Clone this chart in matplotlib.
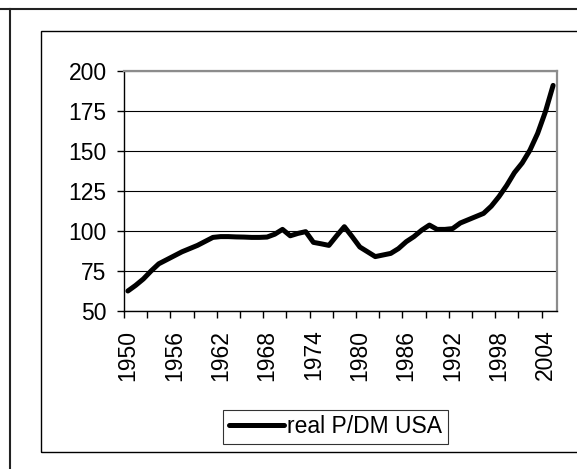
import numpy as np
import matplotlib
matplotlib.use('Agg')
import matplotlib.pyplot as plt
from matplotlib.lines import Line2D
from matplotlib.patches import Rectangle

plt.rcParams['font.family'] = ['Liberation Sans', 'DejaVu Sans']

# jahre und werte
years = list(range(1950, 2006))
values = [62.5, 66, 70, 75, 79.5, 82, 84.5, 87, 89, 91,
          93.5, 96, 96.5, 96.5, 96.3, 96.2, 96, 96, 96.2, 98,
          101, 97, 98.5, 99.6, 92.9, 92, 91, 97, 102.7, 96.5,
          90, 87, 84, 85, 86, 89, 93.3, 96.5, 100.5, 103.7,
          101, 101, 101.5, 105, 107, 109, 111, 115.5, 121.5, 128.5,
          136.5, 142.5, 150.5, 161, 174.5, 191]
label_years = list(range(1950, 2005, 6))
yticks = [50, 75, 100, 125, 150, 175, 200]
series_name = 'real P/DM USA'

fig = plt.figure(figsize=(5.77, 4.69), dpi=100)
ax = fig.add_axes([0.2149, 0.3369, 0.7504, 0.5117])

ax.plot(years, values, color='black', lw=3.6, solid_joinstyle='round',
        solid_capstyle='round', label=series_name)

ax.set_xlim(1949.5, 2005.5)
ax.set_ylim(50, 200)
ax.set_yticks(yticks)
ax.yaxis.grid(True, color='black', lw=0.8)
ax.set_axisbelow(True)

# beschriftung in der mitte, striche an den grenzen
ax.set_xticks(label_years)
ax.set_xticklabels([str(y) for y in label_years], rotation=90, va='top')
ax.set_xticks(np.arange(1949.5, 2005.0, 3), minor=True)
ax.tick_params(axis='x', which='major', length=0, pad=13.5, labelsize=16.5)
ax.tick_params(axis='x', which='minor', length=5, width=1, direction='out')
ax.tick_params(axis='y', length=5, width=1, direction='out', pad=7.5, labelsize=16.5)

for s in ['left', 'bottom']:
    ax.spines[s].set_color('black')
    ax.spines[s].set_linewidth(1)
for s in ['top', 'right']:
    ax.spines[s].set_color('#8c8c8c')
    ax.spines[s].set_linewidth(1.6)

# rahmen
fig.add_artist(Line2D([0, 1], [0.981, 0.981], color='#222222', lw=1.5))
fig.add_artist(Line2D([0.0173, 0.0173], [0, 0.981], color='#222222', lw=1.5))
fig.add_artist(Rectangle((0.0711, 0.0362), 1.0, 0.8977, fill=False,
                         edgecolor='black', lw=1))

leg = fig.legend(loc='center', bbox_to_anchor=(0.5815, 0.0896), fontsize=16.5,
                 frameon=True, fancybox=False, shadow=False, handlelength=2.4,
                 handletextpad=0.15, borderpad=0.25, borderaxespad=0)
leg.get_frame().set_edgecolor('black')
leg.get_frame().set_linewidth(0.8)

fig.savefig('out.png', dpi=100)
